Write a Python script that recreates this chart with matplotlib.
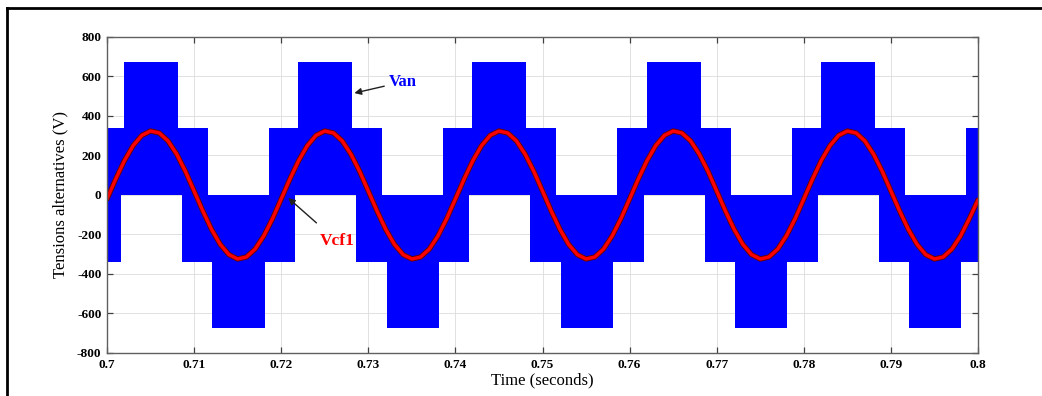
import numpy as np
import matplotlib
matplotlib.use("Agg")
import matplotlib.pyplot as plt
from matplotlib.lines import Line2D

plt.rcParams['font.family'] = ['Liberation Serif', 'DejaVu Serif']
plt.rcParams['axes.unicode_minus'] = False

# -----------------------------------------------------------
# Van envelope (PWM band) : switching instants and levels
up_t = [0.700, 0.70195, 0.70815, 0.7116, 0.7186,
        0.72195, 0.72815, 0.7316, 0.7386,
        0.74195, 0.74815, 0.7516, 0.7586,
        0.76195, 0.76815, 0.7716, 0.7786,
        0.78195, 0.78815, 0.7916, 0.7986, 0.800]
up_v = [337, 675, 337, 0, 337,
        675, 337, 0, 337,
        675, 337, 0, 337,
        675, 337, 0, 337,
        675, 337, 0, 337, 337]

lo_t = [0.700, 0.7016, 0.7086, 0.7121, 0.7181,
        0.7216, 0.7286, 0.7321, 0.7381,
        0.7416, 0.7486, 0.7521, 0.7581,
        0.7616, 0.7686, 0.7721, 0.7781,
        0.7816, 0.7886, 0.7921, 0.7981, 0.800]
lo_v = [-337, 0, -337, -675, -337,
        0, -337, -675, -337,
        0, -337, -675, -337,
        0, -337, -675, -337,
        0, -337, -675, -337, -337]

# Vcf1 filtered voltage, read every 1 ms
t_cf = np.round(np.arange(0.700, 0.8005, 0.001), 3)
v_cf = [-20, 81, 174, 250, 302, 324, 314, 274, 207, 120,
        20, -81, -174, -250, -302, -324, -314, -274, -207, -120,
        -20, 81, 174, 250, 302, 324, 314, 274, 207, 120,
        20, -81, -174, -250, -302, -324, -314, -274, -207, -120,
        -20, 81, 174, 250, 302, 324, 314, 274, 207, 120,
        20, -81, -174, -250, -302, -324, -314, -274, -207, -120,
        -20, 81, 174, 250, 302, 324, 314, 274, 207, 120,
        20, -81, -174, -250, -302, -324, -314, -274, -207, -120,
        -20, 81, 174, 250, 302, 324, 314, 274, 207, 120,
        20, -81, -174, -250, -302, -324, -314, -274, -207, -120,
        -25]
# -----------------------------------------------------------

fig = plt.figure(figsize=(10.42, 3.96), dpi=100)
ax = fig.add_axes([0.1027, 0.1086, 0.8359, 0.798])

# merge both envelopes on a common time grid
tt = np.unique(np.concatenate([up_t, lo_t]))
ui = np.searchsorted(up_t, tt, side='right') - 1
li = np.searchsorted(lo_t, tt, side='right') - 1
upper = np.array(up_v)[ui]
lower = np.array(lo_v)[li]
ax.fill_between(tt, lower, upper, step='post', color='#0000ff', lw=0)

ax.plot(t_cf, v_cf, color='#6a0000', lw=3.8, solid_capstyle='round')
ax.plot(t_cf, v_cf, color='#ff0000', lw=2.4, solid_capstyle='round')

ax.set_xlim(0.7, 0.8)
ax.set_ylim(-800, 800)
ax.set_xticks(np.round(np.arange(0.7, 0.8001, 0.01), 2))
ax.set_xticklabels(['0.7', '0.71', '0.72', '0.73', '0.74', '0.75',
                    '0.76', '0.77', '0.78', '0.79', '0.8'])
ax.set_yticks(np.arange(-800, 801, 200))
ax.grid(True, color='#dcdcdc', lw=0.6)
ax.set_axisbelow(True)
for s in ax.spines.values():
    s.set_color('#606060')
    s.set_linewidth(1.0)
    s.set_zorder(5)
ax.tick_params(direction='in', length=4, width=0.9, color='#404040',
               top=True, right=True, labelsize=9.5, pad=4)
for lab in ax.get_xticklabels() + ax.get_yticklabels():
    lab.set_fontweight('bold')

ax.set_xlabel('Time (seconds)', fontsize=12, labelpad=1)
ax.set_ylabel('Tensions alternatives (V)', fontsize=12, labelpad=6)

ax.annotate('Van', xy=(0.7284, 516), xytext=(0.7323, 572),
            color='#0000ff', fontsize=12, fontweight='bold', va='center',
            arrowprops=dict(arrowstyle='-|>', color='#202020', lw=1.0,
                            mutation_scale=10, shrinkA=1, shrinkB=0))
ax.annotate('Vcf1', xy=(0.7208, -15), xytext=(0.7244, -233),
            color='#ff0000', fontsize=12.5, fontweight='bold', va='center',
            arrowprops=dict(arrowstyle='-|>', color='#202020', lw=1.0,
                            mutation_scale=10, shrinkA=8, shrinkB=0))

# partial figure frame (top and left edges)
fig.add_artist(Line2D([7 / 1042, 1.0], [1 - 8 / 396, 1 - 8 / 396],
                      color='black', lw=2.0, transform=fig.transFigure))
fig.add_artist(Line2D([7 / 1042, 7 / 1042], [0.0, 1 - 8 / 396],
                      color='black', lw=2.0, transform=fig.transFigure))

fig.savefig('out.png', dpi=100)
